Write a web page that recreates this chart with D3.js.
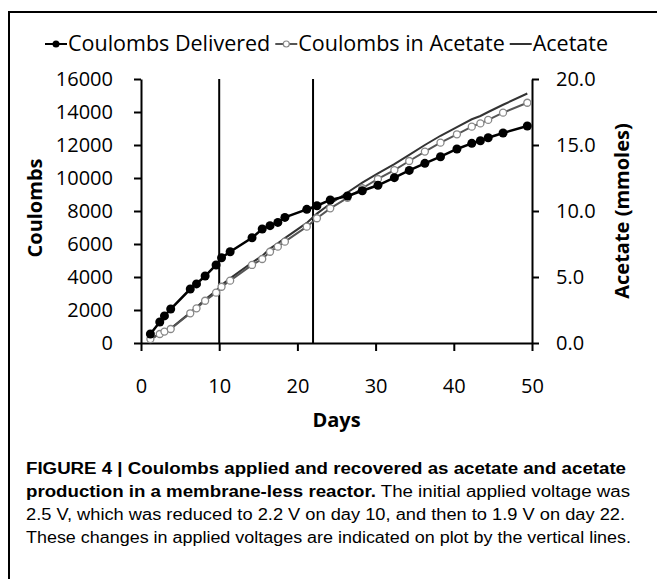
<!DOCTYPE html>
<html>
<head>
<meta charset="utf-8">
<script src="https://cdn.jsdelivr.net/npm/d3@7"></script>
<style>
  html, body { margin: 0; padding: 0; background: #fff; }
  svg { display: block; }
</style>
</head>
<body>
<script>
// ---- data ----
const days = [1.2, 2.4, 3.0, 3.8, 6.3, 7.1, 8.2, 9.6, 10.3, 11.4, 14.2, 15.5, 16.5, 17.5, 18.4,
  21.2, 22.5, 24.2, 26.4, 28.3, 30.3, 32.4, 34.3, 36.3, 38.3, 40.4, 42.3, 43.4, 44.4, 46.3, 49.4];
const coulombsDelivered = [545, 1270, 1640, 2060, 3270, 3580, 4060, 4730, 5170, 5530, 6380, 6910, 7110, 7310, 7610,
  8100, 8320, 8670, 8910, 9230, 9560, 10020, 10460, 10890, 11290, 11760, 12100, 12260, 12440, 12730, 13150];
const coulombsInAcetate = [240, 545, 690, 850, 1800, 2100, 2560, 3050, 3410, 3780, 4730, 5090, 5530, 5840, 6140,
  7050, 7560, 8160, 8800, 9380, 9940, 10480, 11030, 11600, 12140, 12650, 13110, 13310, 13520, 13960, 14560];
const acetateMmol = [0.3, 0.7, 0.9, 1.1, 2.3, 2.7, 3.3, 3.95, 4.4, 4.9, 6.1, 6.6, 7.15, 7.55, 7.95,
  9.1, 9.8, 10.55, 11.4, 12.15, 12.85, 13.55, 14.25, 15.0, 15.7, 16.35, 16.95, 17.2, 17.5, 18.05, 18.9];
const voltageChangeDays = [10, 22];
const xTicks = [0, 10, 20, 30, 40, 50];
const yLeftTicks = [0, 2000, 4000, 6000, 8000, 10000, 12000, 14000, 16000];
const yRightTicks = [0, 5, 10, 15, 20];
const legendLabels = ['Coulombs Delivered', 'Coulombs in Acetate', 'Acetate'];
const captionBold1 = 'FIGURE 4 | Coulombs applied and recovered as acetate and acetate';
const captionBold2 = 'production in a membrane-less reactor.';
const captionRest2 = ' The initial applied voltage was';
const captionLine3 = '2.5 V, which was reduced to 2.2 V on day 10, and then to 1.9 V on day 22.';
const captionLine4 = 'These changes in applied voltages are indicated on plot by the vertical lines.';

const W = 657, H = 579;
const M = { left: 141, right: 532, top: 79, bottom: 343 };
const chartFont = "'Open Sans', 'Noto Sans', sans-serif";
const capFont = "'Liberation Sans', Arial, sans-serif";

const svg = d3.select('body').append('svg')
  .attr('width', W).attr('height', H)
  .attr('viewBox', `0 0 ${W} ${H}`);
svg.append('rect').attr('width', W).attr('height', H).attr('fill', '#fff');

// figure frame (left + top edges)
svg.append('path')
  .attr('d', `M9,${H} L9,12 L${W},12`)
  .attr('fill', 'none').attr('stroke', '#000').attr('stroke-width', 2);

const x = d3.scaleLinear().domain([0, 50]).range([M.left, M.right]);
const yL = d3.scaleLinear().domain([0, 16000]).range([M.bottom, M.top]);
const yR = d3.scaleLinear().domain([0, 20]).range([M.bottom, M.top]);

function styleAxis(g) {
  g.selectAll('path.domain').attr('stroke', '#000').attr('stroke-width', 2);
  g.selectAll('.tick line').attr('stroke', '#000').attr('stroke-width', 2);
  g.selectAll('.tick text').attr('font-family', chartFont).attr('font-size', 20).attr('fill', '#000');
}

svg.append('g')
  .attr('transform', `translate(0,${M.bottom})`)
  .call(d3.axisBottom(x).tickValues(xTicks).tickSizeInner(8).tickSizeOuter(0).tickPadding(28))
  .call(styleAxis);

svg.append('g')
  .attr('transform', `translate(${M.left},0)`)
  .call(d3.axisLeft(yL).tickValues(yLeftTicks).tickFormat(d3.format('d')).tickSizeInner(7).tickSizeOuter(0).tickPadding(21))
  .call(styleAxis);

svg.append('g')
  .attr('transform', `translate(${M.right},0)`)
  .call(d3.axisRight(yR).tickValues(yRightTicks).tickFormat(d3.format('.1f')).tickSizeInner(7).tickSizeOuter(0).tickPadding(17))
  .call(styleAxis);

// voltage change markers
svg.append('g').selectAll('line').data(voltageChangeDays).join('line')
  .attr('x1', d => x(d)).attr('x2', d => x(d))
  .attr('y1', M.top).attr('y2', M.bottom)
  .attr('stroke', '#000').attr('stroke-width', 2);

// series
const acetateLine = d3.line().x((d, i) => x(days[i])).y(d => yR(d));
svg.append('path').datum(acetateMmol)
  .attr('d', acetateLine)
  .attr('fill', 'none').attr('stroke', '#333').attr('stroke-width', 2);

const cLine = d3.line().x((d, i) => x(days[i])).y(d => yL(d));
svg.append('path').datum(coulombsInAcetate)
  .attr('d', cLine)
  .attr('fill', 'none').attr('stroke', '#555').attr('stroke-width', 2);
svg.append('g').selectAll('circle').data(coulombsInAcetate).join('circle')
  .attr('cx', (d, i) => x(days[i])).attr('cy', d => yL(d)).attr('r', 3.5)
  .attr('fill', '#fff').attr('stroke', '#888').attr('stroke-width', 1.3);

svg.append('path').datum(coulombsDelivered)
  .attr('d', cLine)
  .attr('fill', 'none').attr('stroke', '#000').attr('stroke-width', 2.5);
svg.append('g').selectAll('circle').data(coulombsDelivered).join('circle')
  .attr('cx', (d, i) => x(days[i])).attr('cy', d => yL(d)).attr('r', 4.5)
  .attr('fill', '#000');

// axis titles
svg.append('text')
  .attr('x', (M.left + M.right) / 2).attr('y', 427)
  .attr('text-anchor', 'middle')
  .attr('font-family', chartFont).attr('font-size', 20).attr('font-weight', 'bold')
  .text('Days');
svg.append('text')
  .attr('transform', `translate(42,208) rotate(-90)`)
  .attr('text-anchor', 'middle')
  .attr('font-family', chartFont).attr('font-size', 20).attr('font-weight', 'bold')
  .text('Coulombs');
svg.append('text')
  .attr('transform', `translate(629,211) rotate(-90)`)
  .attr('text-anchor', 'middle')
  .attr('font-family', chartFont).attr('font-size', 20).attr('font-weight', 'bold')
  .text('Acetate (mmoles)');

// legend
const legend = svg.append('g');
let lx = 45;
const ly = 44;
legendLabels.forEach((lab, i) => {
  legend.append('line')
    .attr('x1', lx).attr('x2', lx + 22).attr('y1', ly).attr('y2', ly)
    .attr('stroke', i === 0 ? '#000' : i === 1 ? '#555' : '#333').attr('stroke-width', 2);
  if (i === 0) {
    legend.append('circle').attr('cx', lx + 11).attr('cy', ly).attr('r', 3.5).attr('fill', '#000');
  } else if (i === 1) {
    legend.append('circle').attr('cx', lx + 11).attr('cy', ly).attr('r', 3)
      .attr('fill', '#fff').attr('stroke', '#888').attr('stroke-width', 1.2);
  }
  const t = legend.append('text')
    .attr('x', lx + 23).attr('y', ly + 7)
    .attr('font-family', chartFont).attr('font-size', 21.5).attr('fill', '#000')
    .text(lab);
  lx += 23 + t.node().getComputedTextLength() + 5;
});

// caption
const cap = svg.append('g').attr('font-family', capFont).attr('font-size', 16).attr('fill', '#000');
cap.append('text').attr('x', 26).attr('y', 474)
  .attr('textLength', 600).attr('lengthAdjust', 'spacingAndGlyphs')
  .attr('font-weight', 'bold').text(captionBold1);
const l2 = cap.append('text').attr('x', 26).attr('y', 497)
  .attr('textLength', 604).attr('lengthAdjust', 'spacingAndGlyphs');
l2.append('tspan').attr('font-weight', 'bold').text(captionBold2);
l2.append('tspan').text(captionRest2);
cap.append('text').attr('x', 26).attr('y', 520)
  .attr('textLength', 599).attr('lengthAdjust', 'spacingAndGlyphs')
  .text(captionLine3);
cap.append('text').attr('x', 26).attr('y', 543)
  .attr('textLength', 605).attr('lengthAdjust', 'spacingAndGlyphs')
  .text(captionLine4);
</script>
</body>
</html>
